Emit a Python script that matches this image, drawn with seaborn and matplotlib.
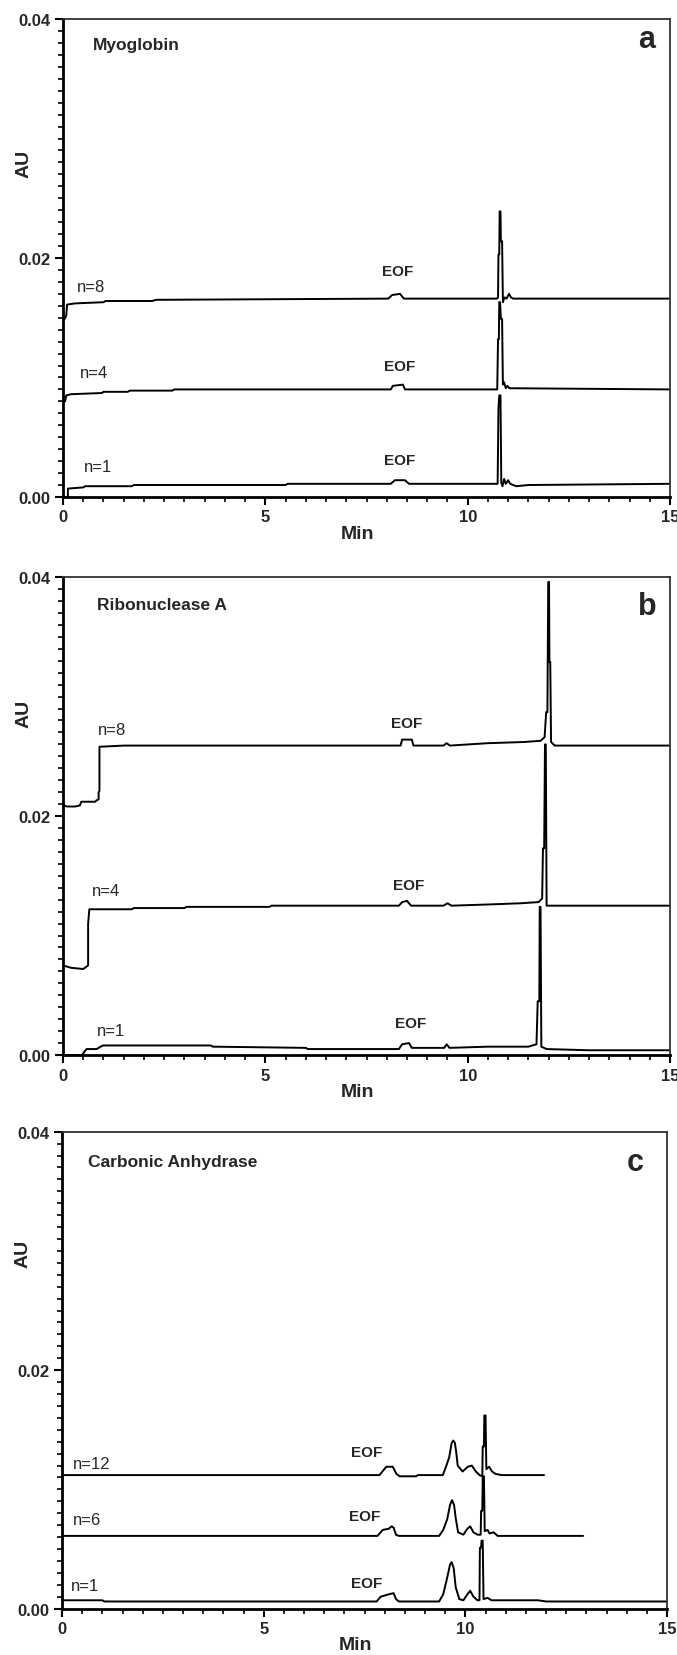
import matplotlib
matplotlib.use("Agg")
import matplotlib.pyplot as plt
import seaborn as sns
import pandas as pd
from matplotlib.ticker import MultipleLocator

# axis ticks
x_ticks = [0, 5, 10, 15]
x_tick_labels = ["0", "5", "10", "15"]
y_ticks = [0.00, 0.02, 0.04]
y_tick_labels = ["0.00", "0.02", "0.04"]

# (Min, AU)
myo_n8 = [(0, 0.0150), (0.04, 0.0149), (0.08, 0.0152), (0.1, 0.0161), (0.3, 0.0162), (1.0, 0.0163),
          (1.05, 0.0164), (2.2, 0.0164), (2.3, 0.0165), (8.04, 0.0166), (8.13, 0.0169), (8.33, 0.0170),
          (8.42, 0.0166), (10.72, 0.0166), (10.75, 0.0167), (10.76, 0.0203), (10.78, 0.0203),
          (10.79, 0.0239), (10.81, 0.0239), (10.82, 0.0214), (10.85, 0.0214), (10.87, 0.0163),
          (10.91, 0.0167), (10.96, 0.0166), (11.02, 0.0170), (11.07, 0.0167), (11.12, 0.0166), (15, 0.0166)]
myo_n4 = [(0, 0.0081), (0.05, 0.0080), (0.08, 0.0085), (0.2, 0.0086), (0.96, 0.0087), (1.0, 0.0088),
          (1.6, 0.0088), (1.65, 0.0089), (2.7, 0.0089), (2.75, 0.0090), (8.1, 0.0090), (8.15, 0.0093),
          (8.4, 0.0094), (8.45, 0.0090), (10.73, 0.0090), (10.75, 0.0132), (10.77, 0.0132),
          (10.78, 0.0163), (10.80, 0.0163), (10.82, 0.0149), (10.85, 0.0149), (10.87, 0.0094),
          (10.90, 0.0096), (10.94, 0.0091), (10.98, 0.0093), (11.03, 0.0091), (15, 0.0090)]
myo_n1 = [(0, 0.0), (0.12, 0.0), (0.12, 0.0007), (0.5, 0.0008), (0.55, 0.0009), (1.7, 0.0009),
          (1.75, 0.0010), (5.5, 0.0010), (5.55, 0.0011), (8.1, 0.0011), (8.2, 0.0014), (8.45, 0.0014),
          (8.55, 0.0011), (10.74, 0.0011), (10.76, 0.0074), (10.78, 0.0085), (10.81, 0.0085),
          (10.83, 0.0012), (10.86, 0.0009), (10.9, 0.0015), (10.94, 0.0011), (11.0, 0.0014),
          (11.05, 0.0011), (11.2, 0.0009), (11.5, 0.0010), (15, 0.0011)]

rib_n8 = [(0, 0.0209), (0.1, 0.0208), (0.3, 0.0208), (0.42, 0.0209), (0.45, 0.0212), (0.8, 0.0212),
          (0.82, 0.0213), (0.88, 0.0214), (0.88, 0.0220), (0.9, 0.0221), (0.9, 0.0258), (1.5, 0.0259),
          (8.34, 0.0259), (8.38, 0.0264), (8.62, 0.0264), (8.66, 0.0259), (9.4, 0.0259), (9.48, 0.0261),
          (9.56, 0.0259), (10.5, 0.0261), (11.4, 0.0262), (11.8, 0.0263), (11.9, 0.0266), (11.94, 0.0287),
          (11.97, 0.0287), (11.99, 0.0396), (12.01, 0.0396), (12.02, 0.0329), (12.04, 0.0329),
          (12.06, 0.0262), (12.15, 0.0259), (15, 0.0259)]
rib_n4 = [(0, 0.0075), (0.2, 0.0073), (0.5, 0.0072), (0.58, 0.0074), (0.62, 0.0075), (0.62, 0.0110),
          (0.65, 0.0122), (1.7, 0.0122), (1.75, 0.0123), (3.0, 0.0123), (3.05, 0.0124), (5.1, 0.0124),
          (5.15, 0.0125), (8.3, 0.0125), (8.38, 0.0128), (8.5, 0.0129), (8.6, 0.0125), (9.4, 0.0125),
          (9.5, 0.0127), (9.6, 0.0125), (10.5, 0.0126), (11.3, 0.0127), (11.75, 0.0128), (11.84, 0.0131),
          (11.86, 0.0173), (11.89, 0.0173), (11.91, 0.0260), (11.93, 0.0260), (11.95, 0.0125),
          (12.3, 0.0125), (15, 0.0125)]
rib_n1 = [(0, 0.0), (0.47, 0.0), (0.58, 0.0005), (0.83, 0.0005), (0.98, 0.0008), (3.65, 0.0008),
          (3.7, 0.0007), (6.0, 0.0006), (6.05, 0.0005), (8.3, 0.0005), (8.38, 0.0009), (8.55, 0.0010),
          (8.62, 0.0006), (9.42, 0.0006), (9.48, 0.0009), (9.55, 0.0006), (10.5, 0.0007), (11.5, 0.0007),
          (11.7, 0.0009), (11.73, 0.0045), (11.77, 0.0045), (11.78, 0.0124), (11.80, 0.0124),
          (11.82, 0.0007), (11.95, 0.0005), (13.0, 0.0004), (15, 0.0004)]

car_n12 = [(0, 0.0112), (7.87, 0.0112), (8.04, 0.0119), (8.2, 0.0119), (8.29, 0.0113), (8.37, 0.0111),
           (8.78, 0.0111), (8.82, 0.0112), (9.44, 0.0112), (9.52, 0.0119), (9.60, 0.0127), (9.66, 0.0139),
           (9.70, 0.0141), (9.74, 0.0139), (9.77, 0.0132), (9.81, 0.0120), (9.93, 0.0115), (10.06, 0.0119),
           (10.16, 0.0120), (10.26, 0.0115), (10.35, 0.0112), (10.42, 0.0111), (10.43, 0.0136),
           (10.46, 0.0136), (10.47, 0.0162), (10.50, 0.0162), (10.52, 0.0117), (10.59, 0.0119),
           (10.66, 0.0115), (10.75, 0.0113), (10.9, 0.0112), (11.95, 0.0112)]
car_n6 = [(0, 0.0061), (7.82, 0.0061), (7.95, 0.0066), (8.1, 0.0067), (8.17, 0.0069), (8.22, 0.0068),
          (8.28, 0.0062), (8.35, 0.0061), (9.35, 0.0061), (9.45, 0.0066), (9.55, 0.0075), (9.62, 0.0087),
          (9.67, 0.0091), (9.72, 0.0087), (9.76, 0.0076), (9.82, 0.0064), (9.95, 0.0062), (10.05, 0.0067),
          (10.12, 0.0069), (10.2, 0.0064), (10.3, 0.0062), (10.38, 0.0062), (10.39, 0.0082),
          (10.42, 0.0082), (10.43, 0.0111), (10.46, 0.0111), (10.48, 0.0065), (10.55, 0.0066),
          (10.6, 0.0063), (10.7, 0.0064), (10.8, 0.0061), (12.92, 0.0061)]
car_n1 = [(0, 0.0007), (1.0, 0.0007), (1.05, 0.0006), (7.8, 0.0006), (7.9, 0.0010), (8.1, 0.0012),
          (8.22, 0.0013), (8.28, 0.0008), (8.35, 0.0006), (9.35, 0.0006), (9.45, 0.0012), (9.55, 0.0026),
          (9.62, 0.0037), (9.66, 0.0039), (9.71, 0.0034), (9.76, 0.0018), (9.85, 0.0008), (9.95, 0.0007),
          (10.05, 0.0012), (10.12, 0.0015), (10.2, 0.0010), (10.3, 0.0007), (10.35, 0.0007),
          (10.36, 0.0051), (10.39, 0.0051), (10.40, 0.0057), (10.43, 0.0057), (10.45, 0.0008),
          (10.55, 0.0009), (10.65, 0.0007), (11.8, 0.0007), (12.0, 0.0006), (15, 0.0006)]

# text: (label, x, baseline y)
myo_n_labels = [("n=8", 0.35, 0.01727), ("n=4", 0.42, 0.01001), ("n=1", 0.52, 0.00215)]
myo_eof = [(8.28, 0.01858), (8.33, 0.01066), (8.33, 0.00276)]
rib_n_labels = [("n=8", 0.86, 0.02686), ("n=4", 0.71, 0.01341), ("n=1", 0.83, 0.00167)]
rib_eof = [(8.50, 0.02742), (8.55, 0.01389), (8.60, 0.00232)]
car_n_labels = [("n=12", 0.27, 0.01183), ("n=6", 0.27, 0.00708), ("n=1", 0.22, 0.00155)]
car_eof = [(7.54, 0.01282), (7.49, 0.00741), (7.54, 0.00181)]

panels = [
    dict(name="Myoglobin", letter="a", traces=[myo_n8, myo_n4, myo_n1], nlab=myo_n_labels, eof=myo_eof,
         title_xy=(0.74, 0.0375), letter_xy=(14.43, 0.0377), au_y=0.70,
         rect=[0.0931, 0.6993, 0.8966, 0.2886]),
    dict(name="Ribonuclease A", letter="b", traces=[rib_n8, rib_n4, rib_n1], nlab=rib_n_labels, eof=rib_eof,
         title_xy=(0.84, 0.0373), letter_xy=(14.43, 0.0369), au_y=0.715,
         rect=[0.0931, 0.3623, 0.8966, 0.2886]),
    dict(name="Carbonic Anhydrase", letter="c", traces=[car_n12, car_n6, car_n1], nlab=car_n_labels, eof=car_eof,
         title_xy=(0.64, 0.0371), letter_xy=(14.2, 0.0368), au_y=0.745,
         rect=[0.0916, 0.0280, 0.8937, 0.2880]),
]

sns.set_style("ticks")
plt.rcParams['font.family'] = ['Liberation Sans', 'DejaVu Sans']

fig = plt.figure(figsize=(6.77, 16.56), dpi=100)

for p in panels:
    ax = fig.add_axes(p["rect"])
    for tr in p["traces"]:
        df = pd.DataFrame(tr, columns=["Min", "AU"])
        sns.lineplot(data=df, x="Min", y="AU", sort=False, estimator=None,
                     color="black", lw=1.4, ax=ax)

    ax.set_xlim(0, 15)
    ax.set_ylim(0, 0.04)
    ax.set_xticks(x_ticks)
    ax.set_xticklabels(x_tick_labels, fontsize=12, fontweight="bold")
    ax.set_yticks(y_ticks)
    ax.set_yticklabels(y_tick_labels, fontsize=12, fontweight="bold")
    ax.xaxis.set_minor_locator(MultipleLocator(0.5))
    ax.yaxis.set_minor_locator(MultipleLocator(0.001))
    ax.tick_params(which="major", direction="out", length=6, width=1.5, color="black", pad=3)
    ax.tick_params(which="minor", direction="out", length=3.5, width=1.2, color="black")

    for side in ["left", "bottom"]:
        ax.spines[side].set_linewidth(2)
        ax.spines[side].set_color("black")
    for side in ["top", "right"]:
        ax.spines[side].set_visible(True)
        ax.spines[side].set_linewidth(1.3)
        ax.spines[side].set_color("#333333")

    ax.set_xlabel("Min", fontsize=14, fontweight="bold")
    ax.xaxis.set_label_coords(0.485, -0.058)
    ax.set_ylabel("AU", fontsize=14, fontweight="bold")
    ax.yaxis.set_label_coords(-0.051, p["au_y"])

    ax.text(p["title_xy"][0], p["title_xy"][1], p["name"], fontsize=12.5, fontweight="bold",
            ha="left", va="baseline")
    ax.text(p["letter_xy"][0], p["letter_xy"][1], p["letter"], fontsize=22, fontweight="bold",
            ha="center", va="baseline")
    for lab, x, y in p["nlab"]:
        ax.text(x, y, lab, fontsize=12, ha="left", va="baseline")
    for x, y in p["eof"]:
        ax.text(x, y, "EOF", fontsize=11, fontweight="bold", ha="center", va="baseline")

plt.savefig("out.png", dpi=100)
